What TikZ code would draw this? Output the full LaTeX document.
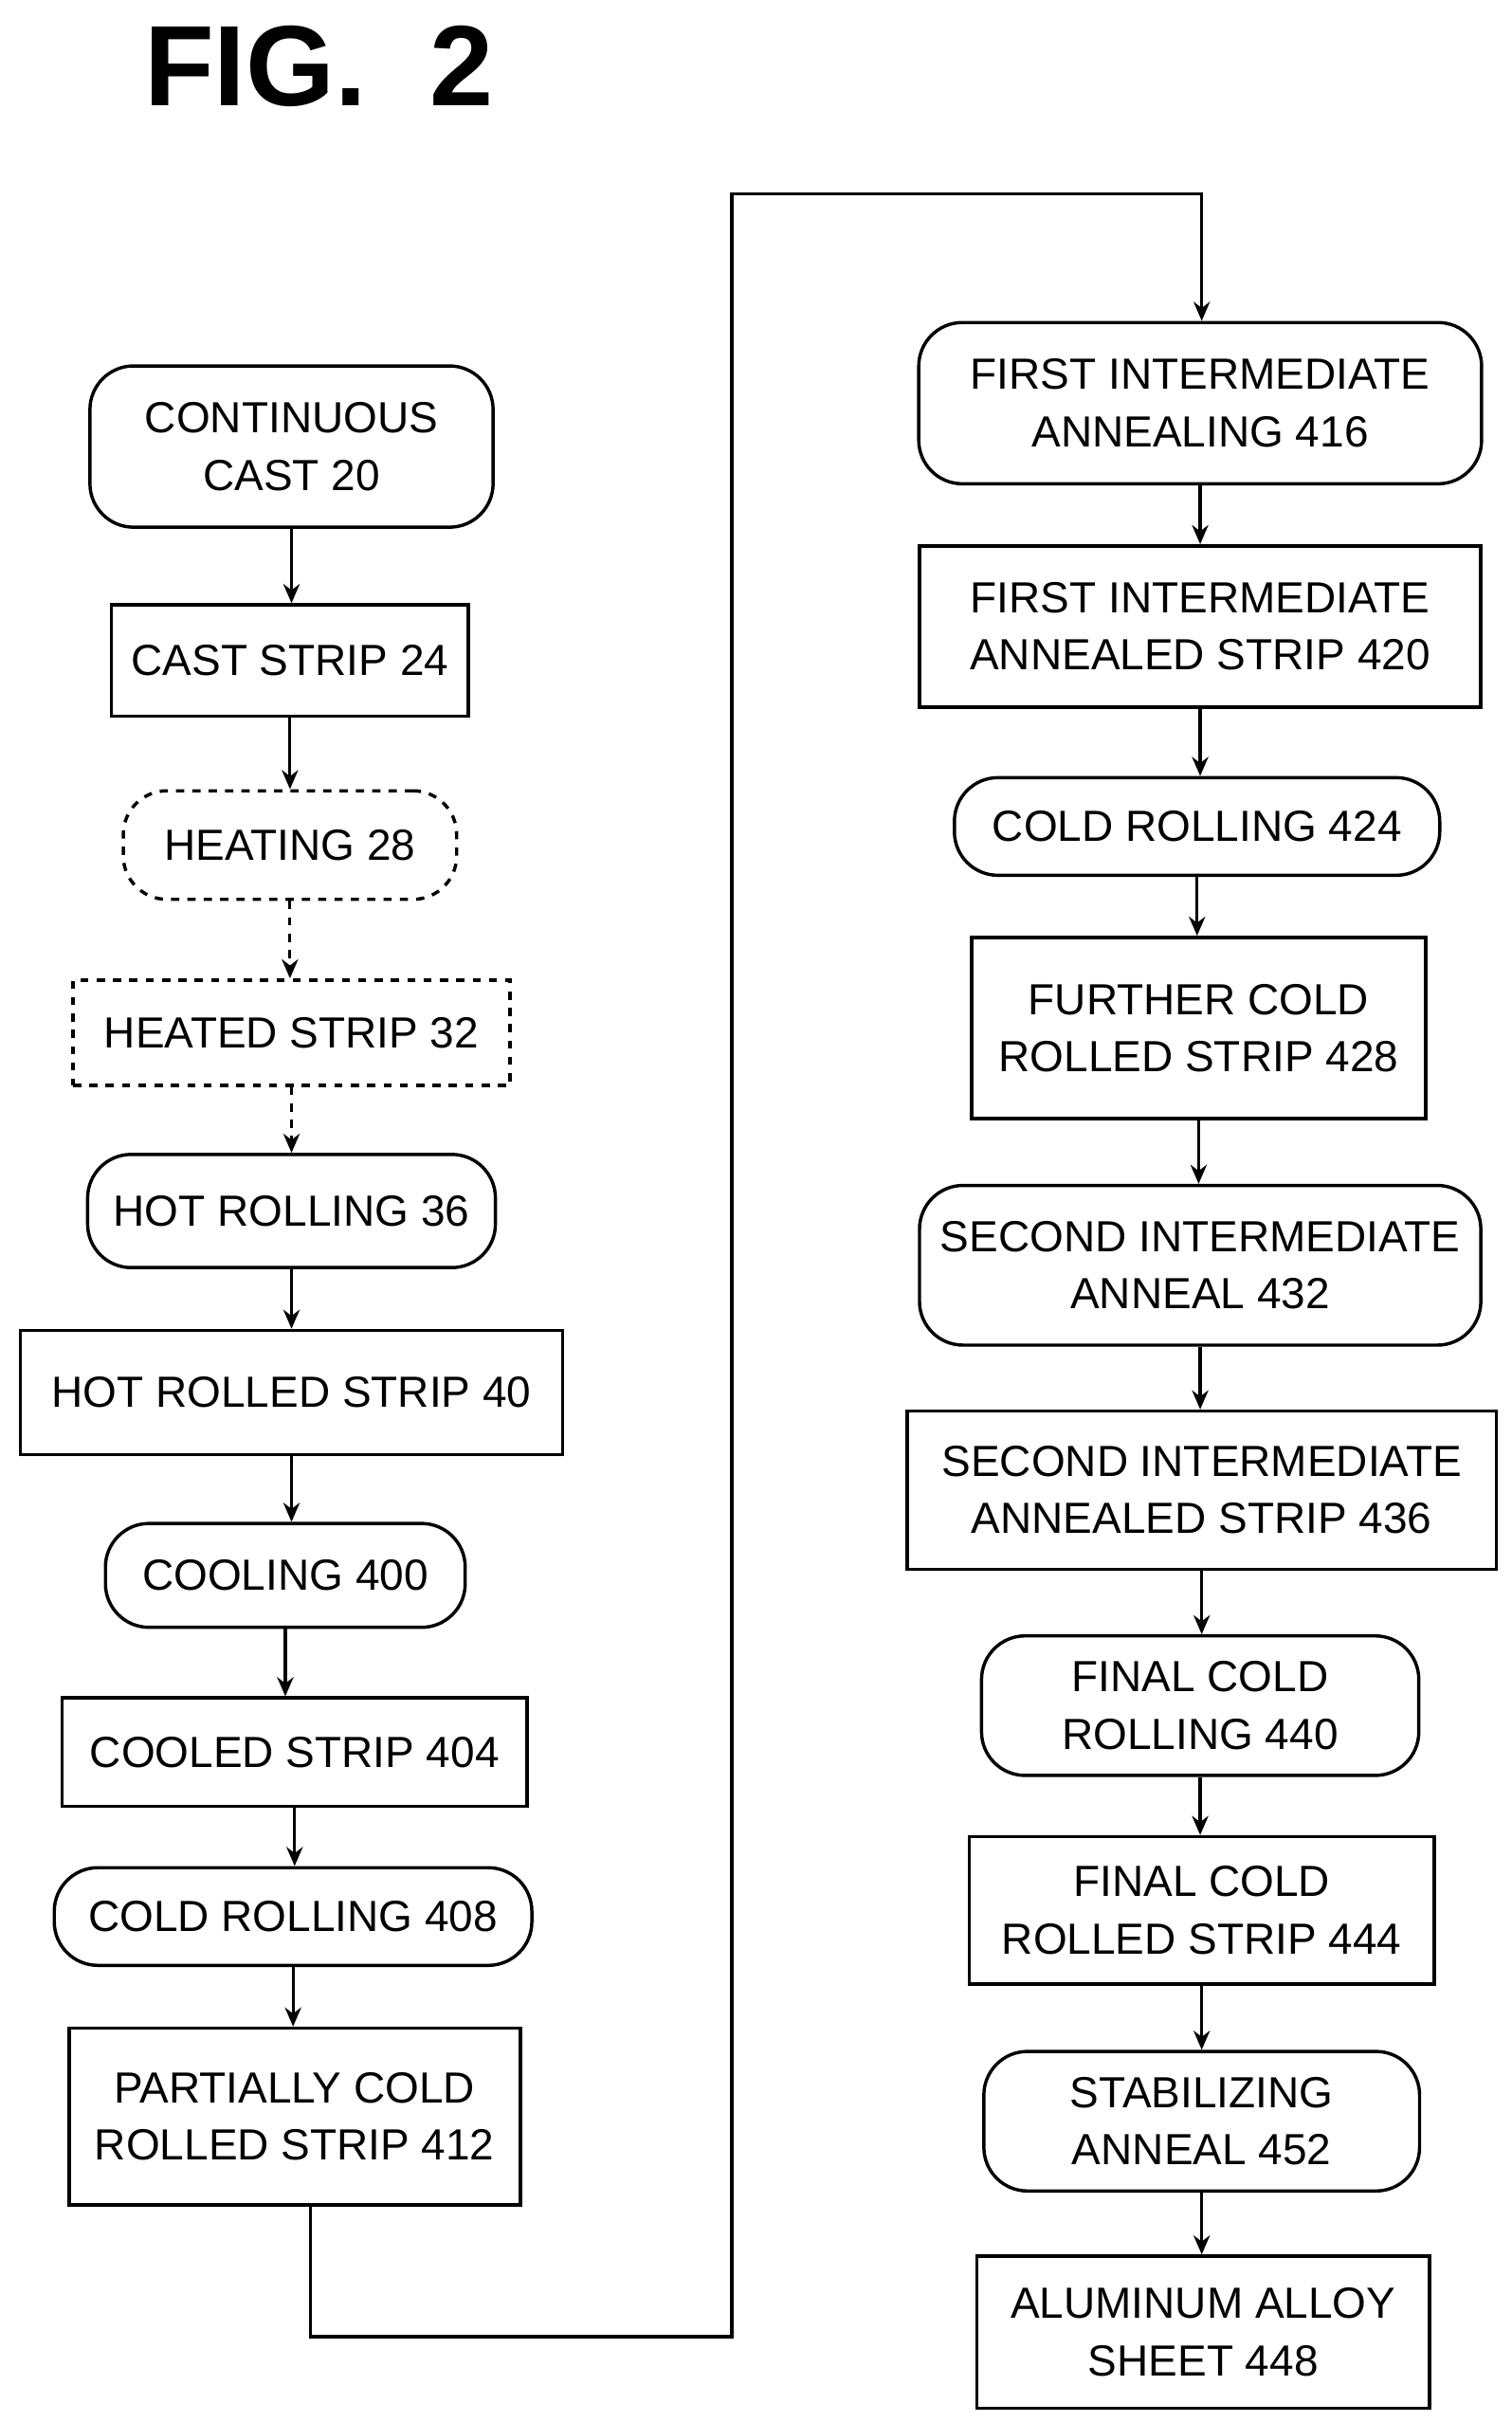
\documentclass[tikz,border=0pt]{standalone}
\usepackage{fontspec}
\setmainfont{Liberation Sans}
\usetikzlibrary{arrows.meta}
\begin{document}
\begin{tikzpicture}[x=0.02cm,y=-0.02cm,
  every node/.style={font=\fontsize{16}{21}\selectfont, align=center, inner sep=0pt, line width=1.2pt},
  rbox/.style={draw, rounded corners=16pt},
  sbox/.style={draw},
  arr/.style={line width=1.1pt, -{Stealth[length=7pt,width=6pt]}}]
\useasboundingbox (0,0) rectangle (975,1562);
\newcommand{\bx}[7]{\node[#1, minimum width=#4*0.02cm, minimum height=#5*0.02cm] (#2) at (#3) {#7};}
\node[font=\bfseries\fontsize{42}{46}\selectfont, anchor=west] (title) at (92,43) {FIG.\ \ 2};
% left column
\bx{rbox}{n20}{188,288}{260}{104}{}{CONTINUOUS\\CAST 20}
\bx{sbox}{n24}{187,426}{230}{72}{}{CAST STRIP 24}
\bx{rbox,dashed}{n28}{187,545}{215}{70}{}{HEATING 28}
\bx{sbox,dashed}{n32}{188,666}{282}{68}{}{HEATED STRIP 32}
\bx{rbox}{n36}{188,781}{263}{73}{}{HOT ROLLING 36}
\bx{sbox}{n40}{188,898}{350}{80}{}{HOT ROLLED STRIP 40}
\bx{rbox}{n400}{184,1016}{232}{67}{}{COOLING 400}
\bx{sbox}{n404}{190,1130}{300}{70}{}{COOLED STRIP 404}
\bx{rbox}{n408}{189,1236}{308}{63}{}{COLD ROLLING 408}
\bx{sbox}{n412}{190,1365}{291}{114}{}{PARTIALLY COLD\\ROLLED STRIP 412}
% right column
\bx{rbox}{n416}{774,260}{363}{104}{}{FIRST INTERMEDIATE\\ANNEALING 416}
\bx{sbox}{n420}{774,404}{362}{104}{}{FIRST INTERMEDIATE\\ANNEALED STRIP 420}
\bx{rbox}{n424}{772,533}{313}{63}{}{COLD ROLLING 424}
\bx{sbox}{n428}{773,663}{293}{117}{}{FURTHER COLD\\ROLLED STRIP 428}
\bx{rbox}{n432}{774,816}{362}{103}{}{SECOND INTERMEDIATE\\ANNEAL 432}
\bx{sbox}{n436}{775,961}{380}{102}{}{SECOND INTERMEDIATE\\ANNEALED STRIP 436}
\bx{rbox}{n440}{774,1100}{282}{90}{}{FINAL COLD\\ROLLING 440}
\bx{sbox}{n444}{775,1232}{300}{95}{}{FINAL COLD\\ROLLED STRIP 444}
\bx{rbox}{n452}{775,1368}{281}{90}{}{STABILIZING\\ANNEAL 452}
\bx{sbox}{n448}{776,1504}{292}{98}{}{ALUMINUM ALLOY\\SHEET 448}
\foreach \a/\b in {n20/n24,n36/n40,n40/n400,n400/n404,n404/n408,n408/n412,n416/n420,n420/n424,n424/n428,n428/n432,n432/n436,n436/n440,n440/n444,n444/n452,n452/n448}
  \draw[arr] (\a.south) -- (\a.south |- \b.north);
\draw[arr] (n24.south) -- (n24.south |- n28.north);
\draw[arr,dashed] (n28.south) -- (n28.south |- n32.north);
\draw[arr,dashed] (n32.south) -- (n32.south |- n36.north);
\coordinate (c1) at (200,1507);
\coordinate (c2) at (472,1507);
\coordinate (c3) at (472,125);
\coordinate (c4) at (775,125);
\draw[arr] (n412.south -| c1) -- (c1) -- (c2) -- (c3) -- (c4) -- (c4 |- n416.north);
\end{tikzpicture}
\end{document}
